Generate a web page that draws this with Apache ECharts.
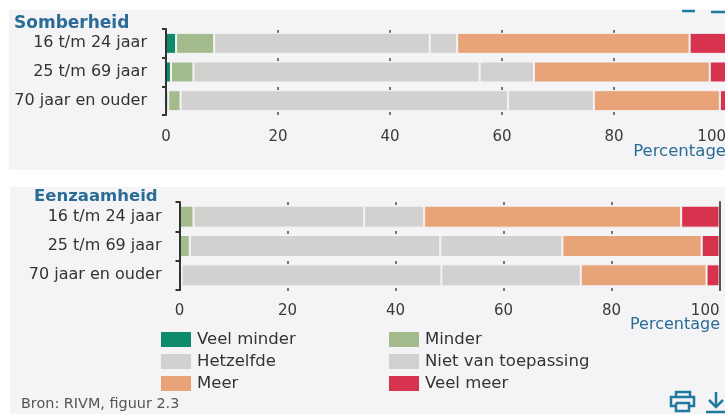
<!DOCTYPE html>
<html>
<head>
<meta charset="utf-8">
<title>Somberheid en eenzaamheid</title>
<script src="https://cdn.jsdelivr.net/npm/echarts@6/dist/echarts.min.js"></script>
<style>
  html, body { margin: 0; padding: 0; background: #fff; }
  #wrap { position: relative; width: 725px; height: 414px; overflow: hidden; }
  .panel { position: absolute; background: #f4f4f6; }
  #panel1 { left: 9px; top: 10px; width: 716px; height: 160px; }
  #panel2 { left: 10px; top: 187px; width: 715px; height: 227px; }
  #chart { position: absolute; left: 0; top: 0; width: 725px; height: 414px; }
</style>
</head>
<body>
<div id="wrap">
  <div class="panel" id="panel1"></div>
  <div class="panel" id="panel2"></div>
  <div id="chart"></div>
</div>
<script>
var categories = ['16 t/m 24 jaar', '25 t/m 69 jaar', '70 jaar en ouder'];
var seriesNames = ['Veel minder', 'Minder', 'Hetzelfde', 'Niet van toepassing', 'Meer', 'Veel meer'];
var seriesColors = ['#0f8a6a', '#a3bb8d', '#d3d1cf', '#d3d1cf', '#e8a478', '#d7334f'];
var tickLabels = [0, 20, 40, 60, 80, 100];

// Somberheid
var somberVeelMinder = [1.8, 0.9, 0.4];
var somberMinder = [6.8, 4.0, 2.2];
var somberHetzelfde = [38.5, 51.1, 58.5];
var somberNvt = [4.9, 9.7, 15.3];
var somberMeer = [41.5, 31.4, 22.5];
var somberVeelMeer = [6.5, 2.9, 1.1];

// Eenzaamheid
var eenzaamVeelMinder = [0, 0, 0];
var eenzaamMinder = [2.6, 1.9, 0.4];
var eenzaamHetzelfde = [31.6, 46.4, 48.1];
var eenzaamNvt = [11.1, 22.6, 25.8];
var eenzaamMeer = [47.6, 25.8, 23.3];
var eenzaamVeelMeer = [7.1, 3.3, 2.4];

var fontFamily = '"DejaVu Sans", Verdana, sans-serif';
var blue = '#2a6c96';
var iconBlue = '#1f7a9e';
var panelColor = '#f4f4f6';

function buildSeries(groups, axisIndex) {
  return groups.map(function(values, i) {
    return {
      type: 'bar',
      name: seriesNames[i],
      stack: 'chart' + axisIndex,
      xAxisIndex: axisIndex,
      yAxisIndex: axisIndex,
      barWidth: axisIndex === 0 ? 21 : 22,
      z: 3,
      data: values,
      itemStyle: { color: seriesColors[i], borderColor: panelColor, borderWidth: 1 }
    };
  });
}

function xAxis(gridIndex, margin) {
  return {
    type: 'value',
    gridIndex: gridIndex,
    min: 0,
    max: 100,
    interval: tickLabels[1] - tickLabels[0],
    axisLine: { show: false },
    axisTick: { show: false },
    splitLine: { show: false },
    axisLabel: { color: '#3a3a3a', fontFamily: fontFamily, fontSize: 15, margin: margin, alignMaxLabel: 'right' }
  };
}

// extra axis that only draws the short grid marks between the bars
function markAxis(gridIndex, offset) {
  return {
    type: 'value',
    gridIndex: gridIndex,
    position: 'bottom',
    offset: offset,
    min: 0,
    max: 100,
    interval: tickLabels[1] - tickLabels[0],
    axisLine: { show: false },
    axisLabel: { show: false },
    splitLine: { show: false },
    axisTick: { show: true, inside: true, length: 3, lineStyle: { color: '#777', width: 2 } }
  };
}

function yAxis(gridIndex, margin) {
  return {
    type: 'category',
    gridIndex: gridIndex,
    inverse: true,
    z: 5,
    data: categories,
    axisLine: { show: true, lineStyle: { color: '#333', width: 2 } },
    axisTick: { show: true, length: 4, lineStyle: { color: '#333', width: 2 } },
    axisLabel: { color: '#333', fontFamily: fontFamily, fontSize: 16, margin: margin }
  };
}

function legend(names, left) {
  return {
    orient: 'vertical',
    left: left,
    top: 331,
    padding: 0,
    itemWidth: 30,
    itemHeight: 15,
    itemGap: 5,
    icon: 'rect',
    selectedMode: false,
    data: names,
    itemStyle: { borderWidth: 0 },
    textStyle: { color: '#333', fontFamily: fontFamily, fontSize: 16.5, padding: [0, 0, 0, 1] }
  };
}

var labels = [
  { type: 'text', x: 726, y: 152, style: { text: 'Percentage', fill: blue, font: '16.5px ' + fontFamily, textAlign: 'right', textVerticalAlign: 'middle' } },
  { type: 'text', x: 720, y: 325, style: { text: 'Percentage', fill: blue, font: '16px ' + fontFamily, textAlign: 'right', textVerticalAlign: 'middle' } },
  { type: 'text', x: 21, y: 404, style: { text: 'Bron: RIVM, figuur 2.3', fill: '#555', font: '14.4px ' + fontFamily, textAlign: 'left', textVerticalAlign: 'middle' } }
];

var iconStroke = { stroke: iconBlue, lineWidth: 2.5, fill: null };
var icons = [
  // print
  { type: 'polyline', shape: { points: [[676, 397], [676, 392], [690, 392], [690, 397]] }, style: iconStroke },
  { type: 'polyline', shape: { points: [[675, 406], [671, 406], [671, 397], [694, 397], [694, 406], [690, 406]] }, style: iconStroke },
  { type: 'polyline', shape: { points: [[676, 403], [676, 411], [689, 411], [689, 403], [676, 403]] }, style: iconStroke },
  // download
  { type: 'line', shape: { x1: 716, y1: 392, x2: 716, y2: 406 }, style: iconStroke },
  { type: 'polyline', shape: { points: [[709, 400], [716, 407], [723, 400]] }, style: iconStroke },
  { type: 'line', shape: { x1: 706, y1: 412, x2: 725, y2: 412 }, style: iconStroke },
  // cut off icons above the first panel
  { type: 'line', shape: { x1: 682, y1: 11, x2: 695, y2: 11 }, style: iconStroke },
  { type: 'line', shape: { x1: 711, y1: 12, x2: 725, y2: 12 }, style: iconStroke }
];

var rightAxis = yAxis(1, 0);
rightAxis.position = 'right';
rightAxis.axisLine.onZero = false;
rightAxis.axisLine.lineStyle.color = '#555';
rightAxis.axisTick = { show: false };
rightAxis.axisLabel = { show: false };

var chart = echarts.init(document.getElementById('chart'));
chart.setOption({
  animation: false,
  backgroundColor: 'transparent',
  color: seriesColors,
  title: [
    { text: 'Somberheid', left: 14, top: 15, padding: 0, textStyle: { color: blue, fontFamily: fontFamily, fontSize: 17, fontWeight: 'bold' } },
    { text: 'Eenzaamheid', left: 34, top: 188, padding: 0, textStyle: { color: blue, fontFamily: fontFamily, fontSize: 16.5, fontWeight: 'bold' } }
  ],
  grid: [
    { left: 166, top: 29, width: 560, height: 86, outerBoundsMode: 'none' },
    { left: 179.5, top: 202, width: 540, height: 88, outerBoundsMode: 'none' }
  ],
  xAxis: [
    xAxis(0, 15), xAxis(1, 14),
    markAxis(0, 0), markAxis(0, -25), markAxis(0, -54), markAxis(0, -82),
    markAxis(1, 1), markAxis(1, -26), markAxis(1, -56), markAxis(1, -85)
  ],
  yAxis: [yAxis(0, 19), yAxis(1, 18), rightAxis],
  legend: [
    legend(['Veel minder', 'Hetzelfde', 'Meer'], 161),
    legend(['Minder', 'Niet van toepassing', 'Veel meer'], 389)
  ],
  graphic: { elements: labels.concat(icons) },
  series: buildSeries([somberVeelMinder, somberMinder, somberHetzelfde, somberNvt, somberMeer, somberVeelMeer], 0)
    .concat(buildSeries([eenzaamVeelMinder, eenzaamMinder, eenzaamHetzelfde, eenzaamNvt, eenzaamMeer, eenzaamVeelMeer], 1))
});
</script>
</body>
</html>
